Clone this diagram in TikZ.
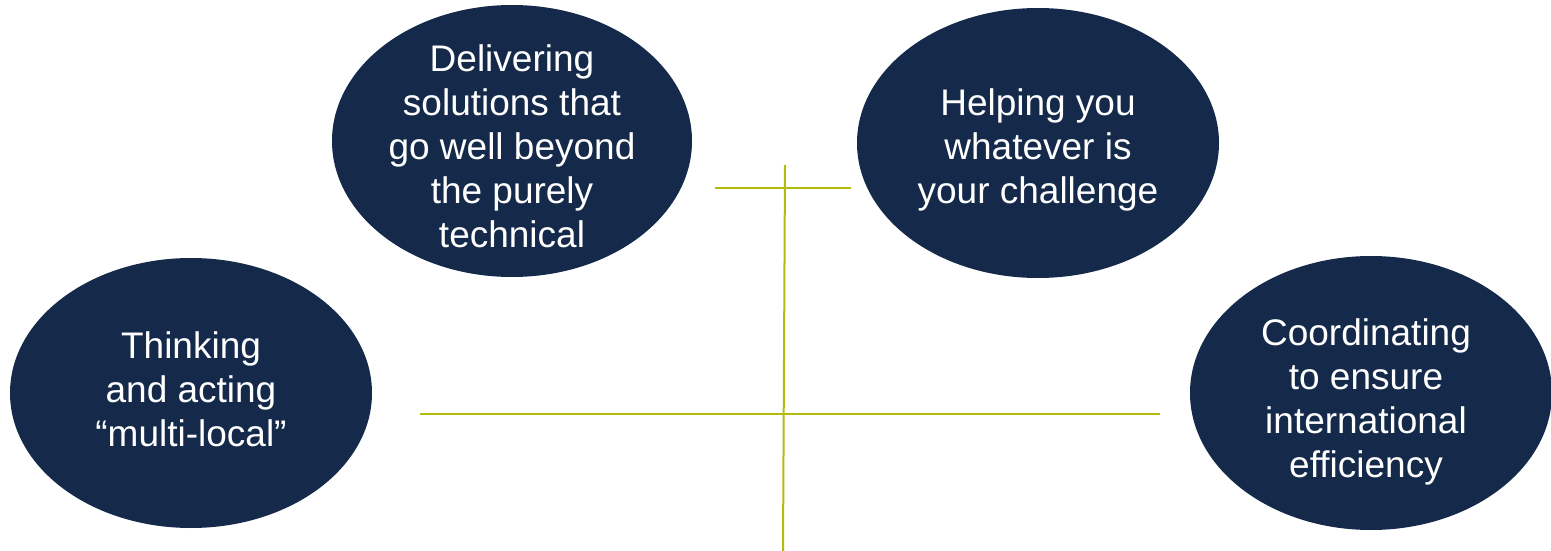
\documentclass[tikz,border=0pt]{standalone}
\usepackage{fontspec}
\setmainfont{Liberation Sans}
\usetikzlibrary{shapes.geometric}
\definecolor{navy}{RGB}{21,42,74}
\definecolor{olive}{RGB}{180,187,8}
\tikzset{
  blob/.style={ellipse, fill=navy, draw=none, inner sep=0pt},
  blobtext/.style={text=white, align=center, font=\fontsize{37}{44}\selectfont, inner sep=0pt},
  rule/.style={draw=olive, line width=2pt}
}
\begin{document}
\begin{tikzpicture}[x=1pt,y=-1pt]
\useasboundingbox (0,0) rectangle (1551,551);
\node[blob, minimum width=360pt, minimum height=272pt] (e1) at (512,141) {};
\node[blob, minimum width=362pt, minimum height=270pt] (e2) at (1038,143) {};
\node[blob, minimum width=362pt, minimum height=270pt] (e3) at (191,393) {};
\node[blob, minimum width=362pt, minimum height=274pt] (e4) at (1371,393) {};
\node[blobtext] (t1) at (512,146) {Delivering\\solutions that\\go well beyond\\the purely\\technical};
\node[blobtext] (t2) at (1038,150) {Helping you\\whatever is\\your challenge};
\node[blobtext] (t3) at (191,389) {Thinking\\and acting\\“multi-local”};
\node[blobtext] (t4) at (1366,402) {Coordinating\\to ensure\\international\\efficiency};
\coordinate (vtop) at (785,165);
\coordinate (vbot) at (783,551);
\coordinate (hl) at (420,414);
\coordinate (hr) at (1160,414);
\coordinate (sl) at (715,187.5);
\coordinate (sr) at (851,187.5);
\draw[rule] (vtop) -- (vbot);
\draw[rule] (hl) -- (hr);
\draw[rule] (sl) -- (sr);
\end{tikzpicture}
\end{document}
